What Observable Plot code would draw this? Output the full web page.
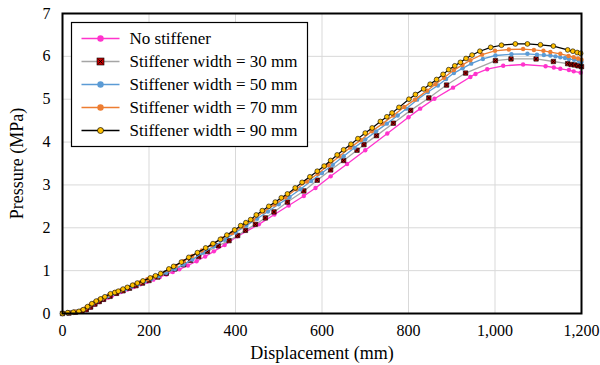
<!DOCTYPE html>
<html>
<head>
<meta charset="utf-8">
<script src="https://cdn.jsdelivr.net/npm/d3@7"></script>
<script src="https://cdn.jsdelivr.net/npm/@observablehq/plot@0.6"></script>
<style>
  html, body { margin: 0; padding: 0; background: #fff; }
  #chart { position: relative; width: 600px; height: 365px; }
  #chart svg { font-family: "Liberation Serif", "Times New Roman", serif; }
  [aria-label="x-axis label"] text, [aria-label="y-axis label"] text { font-size: 18px; }
</style>
</head>
<body>
<div id="chart"></div>
<script>
// ---- Data ----
const seriesNames = ["No stiffener", "Stiffener width = 30 mm", "Stiffener width = 50 mm", "Stiffener width = 70 mm", "Stiffener width = 90 mm"];

const dispNo = [0,15,30,45,55,65,75,85,95,105,115,125,135,150,165,180,195,210,225,240,255,270,290,310,330,350,375,404,454,490,523,558,585,620,658,700,751,800,827,860,903,943,955,982,1019,1065,1117,1136,1151,1171,1182,1198];
const presNo = [0,0.01,0.03,0.05,0.08,0.14,0.21,0.27,0.32,0.37,0.42,0.46,0.50,0.56,0.62,0.68,0.74,0.79,0.85,0.91,0.97,1.03,1.12,1.22,1.33,1.45,1.60,1.80,2.08,2.31,2.52,2.74,2.93,3.20,3.49,3.81,4.20,4.58,4.78,5.01,5.27,5.52,5.59,5.70,5.78,5.81,5.77,5.74,5.71,5.68,5.65,5.62];

const disp30 = [0,15,30,45,55,65,75,85,95,110,125,140,155,170,185,200,220,240,260,280,296,315,335,360,385,405,423,446,469,489,520,558,589,620,650,681,697,726,765,805,847,888,932,1001,1037,1095,1135,1168,1176,1184,1192,1200];
const pres30 = [0,0.01,0.03,0.05,0.09,0.15,0.22,0.28,0.33,0.40,0.47,0.53,0.59,0.65,0.71,0.77,0.85,0.94,1.04,1.14,1.24,1.33,1.45,1.58,1.70,1.82,1.94,2.08,2.23,2.37,2.60,2.86,3.11,3.35,3.57,3.81,3.94,4.15,4.44,4.74,5.03,5.33,5.61,5.90,5.94,5.94,5.88,5.83,5.81,5.80,5.78,5.76];

const disp50 = [0,12,25,38,50,60,70,80,92,105,118,132,146,160,175,190,206,222,240,260,280,300,325,350,375,400,425,450,475,500,525,550,575,600,625,650,675,700,725,750,775,795,820,845,868,887,905,925,945,972,1001,1038,1075,1097,1113,1128,1140,1151,1162,1171,1183,1194,1200];
const pres50 = [0,0.02,0.03,0.05,0.10,0.16,0.23,0.29,0.35,0.41,0.47,0.52,0.57,0.63,0.69,0.75,0.81,0.87,0.95,1.04,1.14,1.26,1.42,1.57,1.72,1.89,2.05,2.21,2.38,2.55,2.72,2.90,3.09,3.28,3.47,3.67,3.87,4.06,4.25,4.43,4.62,4.78,4.99,5.17,5.32,5.47,5.61,5.72,5.83,5.94,6.02,6.05,6.06,6.04,6.03,6.02,6.00,5.98,5.96,5.94,5.92,5.89,5.87];

const disp70 = [0,15,30,45,55,65,75,85,95,108,122,136,150,165,180,196,212,228,245,262,280,300,322,345,368,392,416,440,465,490,515,540,565,590,615,640,665,690,715,740,765,790,815,843,862,882,905,925,943,970,1000,1032,1065,1090,1112,1128,1151,1170,1182,1192,1200];
const pres70 = [0,0.02,0.04,0.08,0.14,0.21,0.27,0.32,0.37,0.44,0.50,0.55,0.61,0.67,0.73,0.80,0.86,0.93,1.02,1.11,1.22,1.34,1.47,1.60,1.75,1.88,2.03,2.18,2.38,2.54,2.71,2.90,3.08,3.26,3.46,3.67,3.87,4.05,4.25,4.43,4.62,4.82,4.99,5.20,5.35,5.50,5.68,5.80,5.91,6.04,6.13,6.16,6.17,6.15,6.13,6.10,6.06,6.01,5.98,5.95,5.92];

const disp90 = [0,12,25,38,48,58,68,78,88,98,111,121,129,140,150,162,173,186,203,215,227,246,257,275,292,312,331,348,365,380,398,412,424,435,448,462,477,492,506,520,538,554,572,589,605,620,635,650,667,683,700,716,735,750,762,778,801,816,835,850,865,880,893,907,920,933,947,965,990,1015,1047,1075,1105,1135,1168,1180,1190,1198];
const pres90 = [0,0.02,0.03,0.05,0.09,0.16,0.23,0.29,0.34,0.39,0.46,0.49,0.52,0.57,0.61,0.66,0.71,0.76,0.83,0.88,0.93,1.04,1.10,1.20,1.31,1.42,1.53,1.63,1.73,1.83,1.95,2.05,2.12,2.19,2.30,2.40,2.50,2.60,2.70,2.79,2.93,3.06,3.19,3.32,3.44,3.57,3.70,3.82,3.95,4.08,4.21,4.33,4.48,4.59,4.68,4.81,5.00,5.11,5.24,5.35,5.46,5.58,5.69,5.78,5.86,5.95,6.03,6.12,6.21,6.26,6.29,6.29,6.27,6.24,6.15,6.12,6.09,6.07];

const xTicks = [0, 200, 400, 600, 800, 1000, 1200];
const yTicks = [0, 1, 2, 3, 4, 5, 6, 7];

// ---- Build tables ----
const zip = (xs, ys) => xs.map((x, i) => ({x, y: ys[i]}));
const sNo = zip(dispNo, presNo);
const s30 = zip(disp30, pres30);
const s50 = zip(disp50, pres50);
const s70 = zip(disp70, pres70);
const s90 = zip(disp90, pres90);

const C = {
  pink: "#ff33cc", gray: "#a5a5a5", red: "#c00000",
  blue: "#5b9bd5", orange: "#ed7d31", black: "#000000", yellow: "#ffc000"
};

const plot = Plot.plot({
  width: 600,
  height: 365,
  marginLeft: 62,
  marginRight: 19,
  marginTop: 13,
  marginBottom: 52,
  style: {fontFamily: "Liberation Serif", fontSize: "16px", color: "#000", background: "#fff"},
  x: {domain: [0, 1200]},
  y: {domain: [0, 7]},
  marks: [
    Plot.gridX(xTicks, {stroke: "#d9d9d9", strokeOpacity: 1, strokeWidth: 1}),
    Plot.gridY(yTicks, {stroke: "#d9d9d9", strokeOpacity: 1, strokeWidth: 1}),
    Plot.axisX({ticks: xTicks, tickFormat: d3.format(","), tickSize: 0, tickPadding: 11,
      label: "Displacement (mm)", labelAnchor: "center", labelArrow: "none", labelOffset: 45}),
    Plot.axisY({ticks: yTicks, tickFormat: d3.format("d"), tickSize: 0, tickPadding: 12,
      label: "Pressure (MPa)", labelAnchor: "center", labelArrow: "none", labelOffset: 52}),
    // No stiffener
    Plot.line(sNo, {x: "x", y: "y", stroke: C.pink, strokeWidth: 1.3}),
    Plot.dot(sNo, {x: "x", y: "y", fill: C.pink, r: 2.2}),
    // 30 mm
    Plot.line(s30, {x: "x", y: "y", stroke: C.gray, strokeWidth: 1.3}),
    Plot.dot(s30, {x: "x", y: "y", symbol: "square", fill: C.red, stroke: "#000", strokeWidth: 0.6, r: 2.5}),
    Plot.dot(s30, {x: "x", y: "y", symbol: "times", stroke: "#000", strokeWidth: 0.8, r: 1.6}),
    // 50 mm
    Plot.line(s50, {x: "x", y: "y", stroke: C.blue, strokeWidth: 1.3}),
    Plot.dot(s50, {x: "x", y: "y", fill: C.blue, r: 2.2}),
    // 70 mm
    Plot.line(s70, {x: "x", y: "y", stroke: C.orange, strokeWidth: 1.3}),
    Plot.dot(s70, {x: "x", y: "y", fill: C.orange, r: 2.2}),
    // 90 mm
    Plot.line(s90, {x: "x", y: "y", stroke: C.black, strokeWidth: 1.2}),
    Plot.dot(s90, {x: "x", y: "y", fill: C.yellow, stroke: "#000", strokeWidth: 0.6, r: 2.4}),
    Plot.frame({stroke: "#000", strokeWidth: 2})
  ]
});

// ---- Legend inside the plot area ----
const svg = d3.select(plot);
const lg = svg.append("g").attr("aria-label", "legend").attr("transform", "translate(71.5,22.5)")
  .attr("text-anchor", "start");
lg.append("rect").attr("width", 236).attr("height", 124).attr("fill", "#fff").attr("stroke", "#000").attr("stroke-width", 1.2);
const legendItems = [
  {line: C.pink, kind: "circle", fill: C.pink},
  {line: C.gray, kind: "square", fill: C.red},
  {line: C.blue, kind: "circle", fill: C.blue},
  {line: C.orange, kind: "circle", fill: C.orange},
  {line: C.black, kind: "circleO", fill: C.yellow}
];
legendItems.forEach((it, i) => {
  const g = lg.append("g").attr("transform", `translate(0,${16 + i * 23})`);
  g.append("line").attr("x1", 10).attr("x2", 48).attr("y1", 0).attr("y2", 0).attr("stroke", it.line).attr("stroke-width", 1.3);
  if (it.kind === "square") {
    g.append("rect").attr("x", 25.5).attr("y", -3.5).attr("width", 7).attr("height", 7).attr("fill", it.fill).attr("stroke", "#000").attr("stroke-width", 0.6);
    g.append("path").attr("d", "M27,-2L31,2M31,-2L27,2").attr("stroke", "#000").attr("stroke-width", 0.9);
  } else {
    g.append("circle").attr("cx", 29).attr("cy", 0).attr("r", it.kind === "circleO" ? 3 : 3.2)
      .attr("fill", it.fill).attr("stroke", it.kind === "circleO" ? "#000" : "none").attr("stroke-width", 0.7);
  }
  g.append("text").attr("x", 58).attr("y", 0).attr("dy", "0.35em").attr("text-anchor", "start")
    .attr("font-size", 17).attr("fill", "#000").text(seriesNames[i]);
});

document.getElementById("chart").appendChild(plot);
</script>
</body>
</html>
